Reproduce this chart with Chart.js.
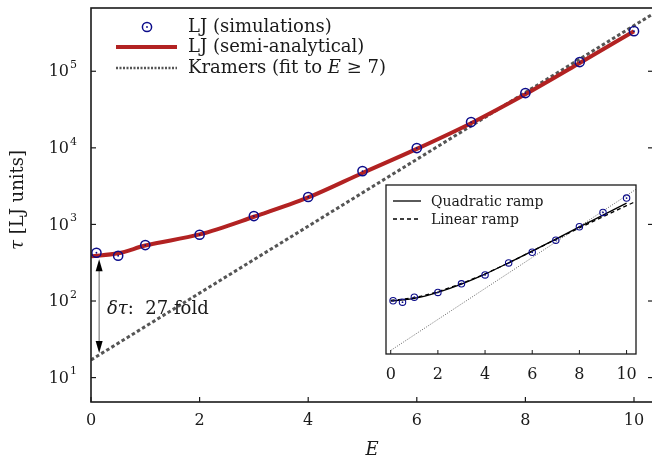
<!DOCTYPE html>
<html>
<head>
<meta charset="utf-8">
<script src="https://cdn.jsdelivr.net/npm/chart.js@4.4.1/dist/chart.umd.min.js"></script>
<style>
  html, body { margin: 0; padding: 0; background: #fff; overflow: hidden; }
  #wrap { position: relative; width: 652px; height: 463px; overflow: hidden; }
  #mainChart { position: absolute; left: 0; top: 0; }
  #insetChart { position: absolute; left: 375px; top: 175px; }
</style>
</head>
<body>
<div id="wrap">
  <canvas id="mainChart" width="660" height="463"></canvas>
  <canvas id="insetChart" width="275" height="218"></canvas>
</div>
<script>
// Escape time tau vs E, LJ simulations vs semi-analytical vs Kramers fit

// simulation points
const simE = [0.1, 0.5, 1, 2, 3, 4, 5, 6, 7, 8, 9, 10];
const simTau = [427, 390, 538, 733, 1285, 2280, 4970, 9930, 21700, 51900, 132000, 334000];

// semi-analytical curve
const semiE = [0, 0.5, 1, 2, 3, 4, 5, 6, 7, 8, 9, 10];
const semiTau = [385, 420, 530, 740, 1260, 2250, 4700, 9700, 21000, 50000, 128000, 334000];

// Kramers fit (straight line on log axis)
const kramersE = [0, 10.4];
const kramersTau = [17, 590000];

// inset ramps
const quadE = [0, 1, 2, 3, 4, 5, 6, 7, 8, 9, 10];
const quadTau = [417, 500, 740, 1260, 2400, 5000, 10700, 23400, 51300, 110000, 240000];
const linE = [0, 1, 2, 3, 4, 5, 6, 7, 8, 9, 10, 10.4];
const linTau = [437, 525, 776, 1320, 2450, 5010, 10700, 22900, 47900, 100000, 204000, 270000];

// ticks
const xTickVals = [0, 2, 4, 6, 8, 10];
const yTickExp = [1, 2, 3, 4, 5];

// delta tau arrow
const arrowE = 0.15;
const arrowTop = 350;
const arrowBottom = 21;

const FONT = '"DejaVu Serif", serif';
const INK = '#1a1a1a';
const BLUE = '#0c0c8a';
const RED = '#b22222';

function toPoints(xs, ys) {
    return xs.map((x, i) => ({ x: x, y: ys[i] }));
}

// hollow circle dataset + centre dot dataset
function markerSets(r, lw) {
    return [
        {
            data: toPoints(simE, simTau),
            showLine: false,
            pointStyle: 'circle',
            pointRadius: r,
            pointBorderWidth: lw,
            pointBorderColor: BLUE,
            pointBackgroundColor: 'rgba(0,0,0,0)',
            order: 0
        },
        {
            data: toPoints(simE, simTau),
            showLine: false,
            pointStyle: 'circle',
            pointRadius: 0.9,
            pointBorderWidth: 0,
            pointBackgroundColor: BLUE,
            order: 0
        }
    ];
}

// draw a run of text pieces, some italic
function drawRuns(ctx, runs, x, y, size, align) {
    let total = 0;
    runs.forEach(r => {
        ctx.font = (r.it ? 'italic ' : '') + size + 'px ' + FONT;
        total += ctx.measureText(r.t).width;
    });
    let cx = align === 'center' ? x - total / 2 : x;
    ctx.textAlign = 'left';
    ctx.textBaseline = 'middle';
    runs.forEach(r => {
        ctx.font = (r.it ? 'italic ' : '') + size + 'px ' + FONT;
        ctx.fillText(r.t, cx, y);
        cx += ctx.measureText(r.t).width;
    });
}

function seg(ctx, x1, y1, x2, y2) {
    ctx.beginPath();
    ctx.moveTo(x1, y1);
    ctx.lineTo(x2, y2);
    ctx.stroke();
}

const mainDecor = {
    id: 'mainDecor',
    afterDraw(chart) {
        const ctx = chart.ctx, a = chart.chartArea;
        const xs = chart.scales.x, ys = chart.scales.y;
        ctx.save();
        ctx.strokeStyle = INK;
        ctx.fillStyle = INK;

        // frame
        ctx.lineWidth = 1.6;
        ctx.strokeRect(a.left, a.top, a.right - a.left, a.bottom - a.top);

        // inward ticks
        ctx.lineWidth = 1.2;
        xTickVals.forEach(v => {
            const px = xs.getPixelForValue(v);
            seg(ctx, px, a.bottom, px, a.bottom - 5);
        });
        yTickExp.forEach(e => {
            const py = ys.getPixelForValue(Math.pow(10, e));
            seg(ctx, a.left, py, a.left + 5, py);
            seg(ctx, a.right, py, a.right - 5, py);
        });

        // tick labels
        ctx.textBaseline = 'middle';
        xTickVals.forEach(v => {
            ctx.font = '16px ' + FONT;
            ctx.textAlign = 'center';
            ctx.fillText(String(v), xs.getPixelForValue(v), 421);
        });
        yTickExp.forEach(e => {
            const py = ys.getPixelForValue(Math.pow(10, e));
            ctx.font = '16px ' + FONT;
            ctx.textAlign = 'right';
            ctx.fillText('10', 69, py + 1);
            ctx.font = '11px ' + FONT;
            ctx.textAlign = 'left';
            ctx.fillText(String(e), 70, py - 6);
        });

        // axis titles
        drawRuns(ctx, [{ t: 'E', it: true }], 372, 450, 18, 'center');
        ctx.save();
        ctx.translate(18, 200);
        ctx.rotate(-Math.PI / 2);
        drawRuns(ctx, [{ t: '\u03C4', it: true }, { t: ' [LJ units]' }], 0, 0, 18, 'center');
        ctx.restore();

        // delta tau arrow
        const ax = xs.getPixelForValue(arrowE);
        const y1 = ys.getPixelForValue(arrowTop);
        const y2 = ys.getPixelForValue(arrowBottom);
        ctx.strokeStyle = '#808080';
        ctx.lineWidth = 1.2;
        seg(ctx, ax, y1 + 8, ax, y2 - 8);
        ctx.fillStyle = '#000';
        ctx.beginPath();
        ctx.moveTo(ax, y1); ctx.lineTo(ax - 3.5, y1 + 12); ctx.lineTo(ax + 3.5, y1 + 12); ctx.closePath();
        ctx.fill();
        ctx.beginPath();
        ctx.moveTo(ax, y2); ctx.lineTo(ax - 3.5, y2 - 12); ctx.lineTo(ax + 3.5, y2 - 12); ctx.closePath();
        ctx.fill();
        ctx.fillStyle = INK;
        drawRuns(ctx, [{ t: '\u03B4\u03C4', it: true }, { t: ':  27 fold' }], 107, 309, 18, 'left');

        // legend
        ctx.strokeStyle = BLUE;
        ctx.lineWidth = 1.5;
        ctx.beginPath();
        ctx.arc(147, 27, 4.6, 0, Math.PI * 2);
        ctx.stroke();
        ctx.fillStyle = BLUE;
        ctx.beginPath();
        ctx.arc(147, 27, 0.9, 0, Math.PI * 2);
        ctx.fill();
        ctx.strokeStyle = RED;
        ctx.lineWidth = 4;
        seg(ctx, 116, 47, 177, 47);
        ctx.strokeStyle = '#555';
        ctx.lineWidth = 2.5;
        ctx.setLineDash([2, 1.5]);
        seg(ctx, 116, 68, 177, 68);
        ctx.setLineDash([]);
        ctx.fillStyle = INK;
        drawRuns(ctx, [{ t: 'LJ (simulations)' }], 188, 27, 18, 'left');
        drawRuns(ctx, [{ t: 'LJ (semi-analytical)' }], 188, 47, 18, 'left');
        drawRuns(ctx, [{ t: 'Kramers (fit to ' }, { t: 'E', it: true }, { t: ' \u2265 7)' }], 188, 68, 18, 'left');
        ctx.restore();
    }
};

const insetDecor = {
    id: 'insetDecor',
    beforeDraw(chart) {
        const ctx = chart.ctx, a = chart.chartArea;
        ctx.save();
        ctx.fillStyle = '#fff';
        ctx.fillRect(a.left, a.top, a.right - a.left, a.bottom - a.top);
        ctx.restore();
    },
    afterDraw(chart) {
        const ctx = chart.ctx, a = chart.chartArea;
        const xs = chart.scales.x;
        ctx.save();
        ctx.strokeStyle = INK;
        ctx.fillStyle = INK;
        ctx.lineWidth = 1.3;
        ctx.strokeRect(a.left, a.top, a.right - a.left, a.bottom - a.top);
        ctx.lineWidth = 1;
        xTickVals.forEach(v => {
            const px = xs.getPixelForValue(v);
            seg(ctx, px, a.bottom, px, a.bottom - 4);
            ctx.font = '16px ' + FONT;
            ctx.textAlign = 'center';
            ctx.textBaseline = 'middle';
            ctx.fillText(String(v), px, a.bottom + 21);
        });
        // legend
        const lx = a.left + 7;
        ctx.strokeStyle = '#000';
        ctx.lineWidth = 1.3;
        seg(ctx, lx, a.top + 16, lx + 28, a.top + 16);
        ctx.setLineDash([4, 3]);
        seg(ctx, lx, a.top + 34, lx + 28, a.top + 34);
        ctx.setLineDash([]);
        drawRuns(ctx, [{ t: 'Quadratic ramp' }], lx + 38, a.top + 17, 14, 'left');
        drawRuns(ctx, [{ t: 'Linear ramp' }], lx + 38, a.top + 35, 14, 'left');
        ctx.restore();
    }
};

function createMainChart() {
    const ctx = document.getElementById('mainChart').getContext('2d');
    new Chart(ctx, {
        type: 'line',
        data: {
            datasets: markerSets(4.6, 1.5).concat([
                {
                    label: 'LJ (semi-analytical)',
                    data: toPoints(semiE, semiTau),
                    borderColor: RED,
                    borderWidth: 4,
                    pointRadius: 0,
                    cubicInterpolationMode: 'monotone',
                    fill: false,
                    order: 1
                },
                {
                    label: 'Kramers (fit to E \u2265 7)',
                    data: toPoints(kramersE, kramersTau),
                    borderColor: '#555',
                    borderWidth: 3,
                    borderDash: [3.5, 2.5],
                    pointRadius: 0,
                    fill: false,
                    order: 2
                }
            ])
        },
        options: {
            responsive: false,
            animation: false,
            layout: { padding: { left: 91, right: 7, top: 8, bottom: 61 } },
            plugins: { legend: { display: false }, tooltip: { enabled: false } },
            scales: {
                x: { type: 'linear', min: 0, max: 10.35, display: false },
                y: { type: 'logarithmic', min: 4.8, max: 670000, display: false }
            }
        },
        plugins: [mainDecor]
    });
}

function createInsetChart() {
    const ctx = document.getElementById('insetChart').getContext('2d');
    new Chart(ctx, {
        type: 'line',
        data: {
            datasets: markerSets(3.2, 1.1).concat([
                {
                    data: toPoints(quadE, quadTau),
                    borderColor: '#000',
                    borderWidth: 1.3,
                    pointRadius: 0,
                    cubicInterpolationMode: 'monotone',
                    order: 1
                },
                {
                    data: toPoints(linE, linTau),
                    borderColor: '#000',
                    borderWidth: 1.3,
                    borderDash: [4, 3],
                    pointRadius: 0,
                    cubicInterpolationMode: 'monotone',
                    order: 2
                },
                {
                    data: toPoints(kramersE, kramersTau),
                    borderColor: '#666',
                    borderWidth: 1,
                    borderDash: [1, 1.5],
                    pointRadius: 0,
                    order: 3
                }
            ])
        },
        options: {
            responsive: false,
            animation: false,
            layout: { padding: { left: 11, right: 14, top: 10, bottom: 39 } },
            plugins: { legend: { display: false }, tooltip: { enabled: false } },
            scales: {
                x: { type: 'linear', min: -0.2, max: 10.4, display: false },
                y: { type: 'logarithmic', min: 13.5, max: 780000, display: false }
            }
        },
        plugins: [insetDecor]
    });
}

createMainChart();
createInsetChart();
</script>
</body>
</html>
